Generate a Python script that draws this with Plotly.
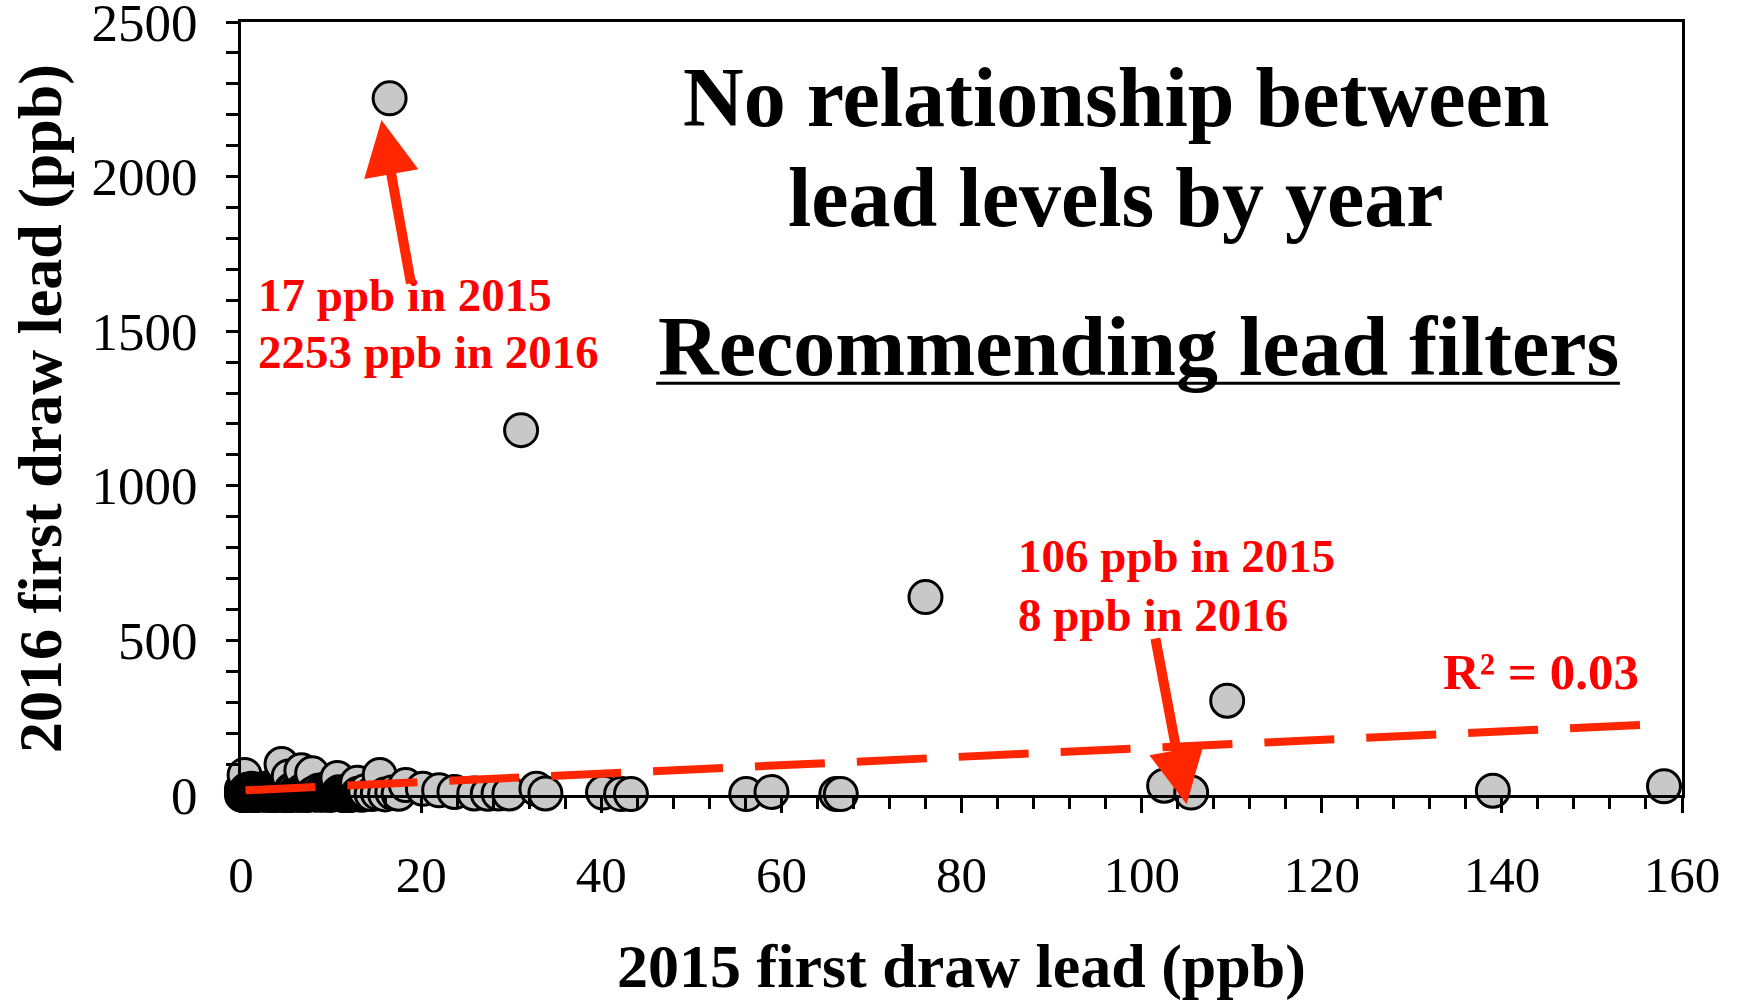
import plotly.graph_objects as go

# 2015 vs 2016 first draw lead (ppb)
lead_2015 = [
    # scattered low points
    0.4, 4.5, 5.3, 6.7, 7.9, 10.7, 12.9, 15.4, 18.3, 20.2, 22.0, 23.7, 25.9,
    27.4, 28.6, 29.8, 32.8, 33.8, 40.2, 42.2, 43.3, 56.1, 58.9, 66.1, 66.6,
    102.5, 105.5, 109.5, 139.0, 158.0,
    # high points
    76.0, 31.1, 16.5,
    # dense cluster near the origin
    0.1, 0.2, 0.3, 0.4, 0.5, 0.6, 0.8, 1.0, 1.1, 1.3, 1.5, 1.7, 1.9, 2.1, 2.4,
    2.7, 3.0, 3.2, 3.5, 3.8, 4.1, 4.4, 4.8, 5.1, 5.5, 5.9, 6.3, 6.8, 7.2, 7.7,
    8.1, 8.6, 9.1, 9.7, 10.3, 10.9, 11.6, 12.3, 13.0, 13.8, 14.5, 15.2, 16.0,
    16.8, 17.5,
    0.2, 0.3, 0.5, 0.7, 0.9, 1.2, 1.4, 1.6, 2.0, 2.2, 2.5, 2.8, 3.1, 3.4, 3.7,
    4.0, 4.3, 4.6, 5.0, 5.3, 5.7, 6.1, 6.5, 7.0, 7.4, 7.9, 8.4, 8.9, 9.4, 10.0,
    10.6, 11.3, 12.0, 12.6, 0.1, 0.4, 0.6, 0.9, 1.2, 1.6, 2.0, 2.5, 3.0, 3.6,
    4.2, 4.9, 5.6, 6.4, 7.3, 8.2, 9.3, 10.4, 11.5,
    0.3, 6.2, 2.9, 9.8, 1.4, 11.1, 4.7, 7.6, 0.8, 5.4, 10.2, 3.3, 8.8, 1.9, 6.9,
    12.1, 2.6, 9.1, 0.5, 4.1, 7.3, 11.7, 3.9, 0.2, 8.3, 5.8, 10.8, 1.1, 6.6, 2.3,
    9.5, 4.4, 12.4, 0.7, 7.9, 3.5, 10.5, 5.1, 1.7, 8.6, 0.4, 6.0, 2.7, 11.4, 4.9,
    9.3, 1.3, 7.1, 3.1, 10.0, 5.6, 0.9, 8.0, 2.1, 11.9, 6.4, 3.7, 9.7, 1.5, 4.6,
    0.6, 7.5, 2.4, 10.7, 5.2, 8.9, 1.0, 6.8, 3.4, 12.2,
    11.8, 12.5, 12.8, 13.2, 13.4, 13.6,
]
lead_2016 = [
    65, 100, 60, 80, 70, 55, 40, 65, 32, 20, 15, 10, 5,
    4, 5, 5, 20, 5, 8, 3, 3, 3, 10, 3, 3,
    30, 8, 305, 14, 28,
    640, 1180, 2253,
    1, 3, 0, 5, 2, 8, 1, 4, 10, 2, 6, 0, 3, 12, 1,
    5, 2, 9, 3, 0, 7, 4, 15, 2, 6, 1, 11, 3, 8, 2,
    5, 14, 1, 6, 3, 9, 2, 7, 4, 12, 3, 6, 2,
    8, 4,
    6, 12, 2, 9, 4, 14, 0, 7, 3, 11, 5, 1, 16, 4, 8,
    2, 13, 6, 0, 10, 3, 7, 1, 12, 5, 9, 2, 6, 11, 4,
    8, 1, 5, 10, 18, 0, 15, 3, 20, 1, 17, 6, 22, 2,
    19, 0, 16, 5, 14, 2, 18, 4, 9,
    2, 9, 5, 1, 12, 4, 7, 3, 15, 0, 6, 10, 2, 8, 4,
    1, 11, 5, 3, 14, 0, 6, 9, 4, 2, 13, 5, 7, 1, 10,
    3, 8, 2, 16, 6, 0, 4, 11, 2, 7, 10, 3, 6, 0, 12,
    5, 2, 9, 14, 1, 4, 7, 3, 11, 0, 8, 2, 5, 17, 1,
    4, 2, 12, 6, 0, 9, 3, 13, 1, 5,
    6, 2, 9, 4, 1, 7,
]

# trend line end points (as drawn)
trend_x = [0.5, 157]
trend_y = [15, 229]

y_ticks = [0, 500, 1000, 1500, 2000, 2500]

FONT = "Liberation Serif, Times New Roman, serif"
RED_TXT = "#FF0000"
RED = "#FF2600"

# draw in order of the 2015 value, like the spreadsheet did
pts = sorted(zip(lead_2015, lead_2016))
xs = [p[0] for p in pts]
ys = [p[1] for p in pts]

fig = go.Figure()
fig.add_trace(go.Scatter(x=xs, y=ys, mode="markers",
                         marker=dict(size=33, color="#C8C8C8",
                                     line=dict(color="black", width=3)),
                         cliponaxis=False, showlegend=False))
fig.add_trace(go.Scatter(x=trend_x, y=trend_y, mode="lines",
                         line=dict(color=RED, width=8, dash="70px,32px"),
                         hoverinfo="skip", showlegend=False))

axis_common = dict(showline=True, linewidth=3, linecolor="black", mirror=True,
                   showgrid=False, zeroline=False, ticks="outside",
                   tickwidth=3, tickcolor="black", automargin=False,
                   ticklabeloverflow="allow")

fig.update_xaxes(range=[0, 160], dtick=20, ticklen=15,
                 minor=dict(dtick=4, ticks="outside", ticklen=11, tickwidth=3,
                            tickcolor="black"),
                 tickfont=dict(family=FONT, size=51, color="black"),
                 title=dict(text="<b>2015 first draw lead (ppb)</b>",
                            font=dict(family=FONT, size=62, color="black"),
                            standoff=45),
                 ticklabelstandoff=18,
                 **axis_common)
fig.update_yaxes(range=[0, 2500], tickmode="array", tickvals=y_ticks,
                 ticklen=12,
                 minor=dict(dtick=100, ticks="outside", ticklen=12, tickwidth=3,
                            tickcolor="black"),
                 tickfont=dict(family=FONT, size=53, color="black"),
                 title=dict(text="<b>2016 first draw lead (ppb)</b>",
                            font=dict(family=FONT, size=62, color="black"),
                            standoff=10),
                 ticklabelstandoff=18,
                 **axis_common)

annots = [
    dict(x=97.1, y=2256, text="<b>No relationship between</b>", size=84,
         color="black", xanchor="center"),
    dict(x=97.1, y=1934, text="<b>lead levels by year</b>", size=84,
         color="black", xanchor="center"),
    dict(x=99.6, y=1449, text="<b>Recommending lead filters</b>", size=84,
         color="black", xanchor="center"),
    dict(x=1.7, y=1617, text="<b>17 ppb in 2015</b>", size=47,
         color=RED_TXT, xanchor="left"),
    dict(x=1.7, y=1433, text="<b>2253 ppb in 2016</b>", size=47,
         color=RED_TXT, xanchor="left"),
    dict(x=86.1, y=773, text="<b>106 ppb in 2015</b>", size=47,
         color=RED_TXT, xanchor="left"),
    dict(x=86.1, y=582, text="<b>8 ppb in 2016</b>", size=47,
         color=RED_TXT, xanchor="left"),
    dict(x=155.4, y=398, text="<b>R² = 0.03</b>", size=51,
         color=RED_TXT, xanchor="right"),
]
for a in annots:
    fig.add_annotation(x=a["x"], y=a["y"], xref="x", yref="y", text=a["text"],
                       showarrow=False, xanchor=a["xanchor"], yanchor="middle",
                       font=dict(family=FONT, size=a["size"], color=a["color"]))

# underline of "Recommending lead filters"
fig.add_shape(type="line", xref="x", yref="y", x0=46.1, x1=153.1, y0=1332,
              y1=1332, line=dict(color="black", width=3))

# arrows: tip (x, y) and tail (ax, ay) in data units
arrows = [
    dict(x=15.6, y=2183, ax=18.9, ay=1650),
    dict(x=105.0, y=-30, ax=101.5, ay=511),
]
for ar in arrows:
    fig.add_annotation(x=ar["x"], y=ar["y"], ax=ar["ax"], ay=ar["ay"],
                       xref="x", yref="y", axref="x", ayref="y", text="",
                       showarrow=True, arrowhead=2, arrowsize=1.1,
                       arrowwidth=10, arrowcolor=RED)

fig.update_layout(width=1737, height=1001,
                  margin=dict(l=241, r=55, t=22, b=206),
                  plot_bgcolor="white", paper_bgcolor="white",
                  font=dict(family=FONT, color="black"))

fig.write_html("out.html", config={"displayModeBar": False},
               post_script="document.body.style.margin = '0';")
